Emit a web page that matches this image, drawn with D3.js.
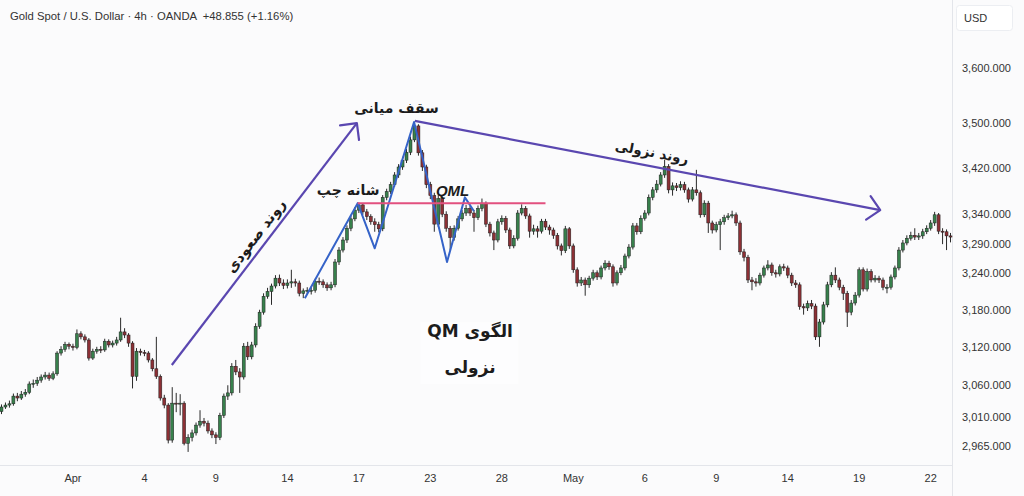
<!DOCTYPE html>
<html>
<head>
<meta charset="utf-8">
<script src="https://cdn.jsdelivr.net/npm/d3@7"></script>
<style>
body { margin: 0; background: #fbfbfc; }
svg { display: block; }
</style>
</head>
<body>
<div id="chart"></div>
<script>
width = 1024
height = 496
plot = ({left: 0, right: 952, top: 0, bottom: 465})

// XAU/USD 4h candles, open of each candle = previous close
firstOpen = 3018
closes = [
  3025, 3028, 3030, 3042, 3039, 3045, 3048, 3061, 3062, 3067, 3072, 3075, 3070, 3077, 3110, 3116, 3124, 3121,
  3119, 3141, 3136, 3131, 3102, 3113, 3116, 3115, 3129, 3123, 3126, 3131, 3144, 3139, 3126, 3073, 3113, 3111,
  3110, 3099, 3085, 3073, 3039, 3028, 2974, 3031, 3030, 3031, 2969, 2978, 2985, 2997, 3003, 3000, 2988, 2982,
  2978, 3012, 3042, 3047, 3089, 3080, 3072, 3121, 3104, 3123, 3153, 3176, 3202, 3210, 3219, 3232, 3224, 3220,
  3224, 3226, 3224, 3207, 3211, 3212, 3212, 3227, 3226, 3221, 3216, 3221, 3259, 3279, 3296, 3316, 3332, 3347,
  3356, 3344, 3336, 3327, 3322, 3315, 3369, 3379, 3391, 3408, 3422, 3434, 3448, 3470, 3495, 3447, 3422, 3391,
  3372, 3323, 3367, 3340, 3316, 3300, 3316, 3332, 3342, 3350, 3342, 3334, 3350, 3359, 3323, 3308, 3296, 3327,
  3333, 3313, 3286, 3299, 3342, 3350, 3337, 3311, 3315, 3311, 3328, 3318, 3313, 3304, 3286, 3278, 3315, 3286,
  3246, 3224, 3229, 3221, 3232, 3241, 3234, 3249, 3257, 3251, 3224, 3241, 3249, 3269, 3284, 3320, 3310, 3333,
  3342, 3369, 3382, 3392, 3408, 3423, 3382, 3389, 3386, 3391, 3382, 3366, 3382, 3377, 3339, 3359, 3325, 3313,
  3322, 3327, 3334, 3337, 3339, 3325, 3276, 3267, 3229, 3226, 3224, 3237, 3249, 3254, 3241, 3239, 3251, 3249,
  3237, 3224, 3221, 3185, 3183, 3190, 3186, 3136, 3160, 3188, 3221, 3237, 3229, 3217, 3207, 3176, 3191, 3204,
  3246, 3214, 3243, 3229, 3232, 3229, 3217, 3217, 3234, 3249, 3279, 3291, 3299, 3304, 3301, 3303, 3310, 3316,
  3325, 3339, 3311, 3310, 3303, 3301
]
highs = [
  3029, 3032, 3035, 3046, 3047, 3050, 3053, 3065, 3068, 3072, 3076, 3080, 3079, 3081, 3113, 3121, 3128, 3127,
  3125, 3148, 3145, 3140, 3134, 3117, 3120, 3121, 3133, 3132, 3130, 3136, 3167, 3150, 3142, 3129, 3118, 3117,
  3115, 3113, 3102, 3136, 3076, 3044, 3031, 3056, 3047, 3045, 3034, 2983, 2990, 3001, 3020, 3008, 3004, 2992,
  2986, 3016, 3046, 3059, 3094, 3099, 3086, 3126, 3128, 3128, 3158, 3180, 3207, 3216, 3223, 3237, 3238, 3230,
  3230, 3246, 3231, 3228, 3215, 3217, 3218, 3231, 3233, 3230, 3225, 3226, 3264, 3284, 3301, 3321, 3337, 3352,
  3360, 3359, 3349, 3340, 3333, 3327, 3373, 3384, 3396, 3413, 3427, 3440, 3454, 3476, 3500, 3498, 3452, 3426,
  3396, 3377, 3373, 3370, 3345, 3320, 3321, 3337, 3347, 3356, 3354, 3347, 3355, 3367, 3362, 3327, 3312, 3332,
  3338, 3337, 3317, 3304, 3347, 3357, 3354, 3341, 3322, 3320, 3332, 3332, 3322, 3317, 3308, 3290, 3320, 3318,
  3290, 3250, 3234, 3233, 3236, 3246, 3245, 3253, 3262, 3261, 3255, 3245, 3254, 3273, 3289, 3325, 3325, 3338,
  3347, 3374, 3387, 3399, 3413, 3435, 3427, 3395, 3394, 3397, 3396, 3386, 3387, 3417, 3381, 3364, 3363, 3329,
  3327, 3332, 3339, 3342, 3346, 3343, 3329, 3281, 3271, 3234, 3232, 3241, 3253, 3262, 3258, 3246, 3255, 3256,
  3253, 3241, 3229, 3225, 3190, 3195, 3196, 3190, 3165, 3193, 3226, 3242, 3250, 3233, 3221, 3211, 3196, 3209,
  3250, 3250, 3248, 3247, 3237, 3236, 3233, 3222, 3238, 3253, 3284, 3296, 3304, 3310, 3316, 3308, 3315, 3321,
  3330, 3344, 3342, 3316, 3314, 3308
]
lows = [
  3014, 3022, 3024, 3027, 3034, 3036, 3041, 3045, 3055, 3058, 3063, 3068, 3066, 3067, 3074, 3106, 3112, 3116,
  3114, 3116, 3132, 3127, 3098, 3099, 3109, 3110, 3112, 3119, 3119, 3122, 3128, 3134, 3120, 3054, 3066, 3106,
  3105, 3095, 3081, 3069, 3035, 3023, 2969, 2970, 3017, 3012, 2966, 2956, 2972, 2981, 2993, 2995, 2984, 2977,
  2968, 2974, 3008, 3036, 3043, 3075, 3047, 3068, 3099, 3100, 3119, 3149, 3172, 3198, 3188, 3215, 3219, 3214,
  3215, 3216, 3218, 3202, 3199, 3206, 3205, 3208, 3221, 3216, 3211, 3212, 3217, 3254, 3275, 3291, 3311, 3328,
  3342, 3339, 3330, 3322, 3310, 3309, 3311, 3364, 3375, 3387, 3403, 3417, 3429, 3443, 3466, 3442, 3415, 3385,
  3366, 3310, 3318, 3335, 3310, 3279, 3295, 3312, 3328, 3337, 3337, 3310, 3330, 3345, 3318, 3302, 3279, 3292,
  3322, 3308, 3281, 3282, 3295, 3338, 3332, 3300, 3305, 3300, 3307, 3313, 3305, 3298, 3280, 3270, 3274, 3281,
  3241, 3218, 3219, 3203, 3216, 3228, 3229, 3230, 3245, 3246, 3218, 3220, 3237, 3245, 3265, 3280, 3305, 3306,
  3329, 3338, 3364, 3377, 3388, 3403, 3376, 3372, 3380, 3381, 3377, 3360, 3362, 3372, 3334, 3335, 3308, 3307,
  3309, 3279, 3322, 3330, 3333, 3320, 3271, 3260, 3224, 3212, 3218, 3220, 3233, 3245, 3236, 3233, 3235, 3244,
  3232, 3219, 3216, 3180, 3172, 3178, 3181, 3131, 3120, 3156, 3184, 3217, 3224, 3212, 3196, 3152, 3171, 3187,
  3200, 3210, 3210, 3225, 3225, 3224, 3212, 3207, 3213, 3230, 3245, 3275, 3287, 3295, 3296, 3296, 3298, 3306,
  3312, 3320, 3306, 3289, 3279, 3292
]

tickIndex = [18, 36, 54, 72, 90, 108, 126, 144, 162, 180, 198, 216, 234]
tickLabels = ["Apr", "4", "9", "14", "17", "23", "28", "May", "6", "9", "14", "19", "22"]
priceTicks = [3600, 3500, 3420, 3340, 3290, 3240, 3180, 3120, 3060, 3010, 2965]

// annotations, in [candle index, price]
upTrend = [[42.9, 3091], [89.5, 3500]]
downTrend = [[104.1, 3504], [221.3, 3347]]
zigzag = [[76.4, 3199], [89.7, 3359], [94, 3282], [103.9, 3502], [112.2, 3259], [116.7, 3369], [119, 3345]]
qmlLevel = 3359
qmlSpan = [89.7, 137]

candles = closes.map((c, i) => ({i: i, o: i ? closes[i - 1] : firstOpen, h: highs[i], l: lows[i], c: c}))
N = candles.length

x = d3.scaleBand()
  .domain(d3.range(N))
  .range([plot.left, plot.right])
  .paddingInner(0.25)
xi = d3.scaleLinear()
  .domain([0, N - 1])
  .range([x(0) + x.bandwidth() / 2, x(N - 1) + x.bandwidth() / 2])
y = d3.scaleLog()
  .domain([2965, 3600])
  .range([446, 68.3])

const svg = d3.select("#chart").append("svg")
  .attr("width", width)
  .attr("height", height)
  .attr("viewBox", [0, 0, width, height])

svg.append("rect").attr("width", width).attr("height", height).attr("fill", "#fbfbfc")

// frame lines
svg.append("line")
  .attr("x1", plot.right + 0.5).attr("x2", plot.right + 0.5)
  .attr("y1", 0).attr("y2", height)
  .attr("stroke", "#e3e5ea")
svg.append("line")
  .attr("x1", 0).attr("x2", plot.right)
  .attr("y1", plot.bottom + 0.5).attr("y2", plot.bottom + 0.5)
  .attr("stroke", "#e3e5ea")

// candles
const up = "#37804c", down = "#8c3035"
const cg = svg.append("g")
cg.selectAll("line")
  .data(candles)
  .enter().append("line")
  .attr("x1", d => xi(d.i)).attr("x2", d => xi(d.i))
  .attr("y1", d => y(d.h)).attr("y2", d => y(d.l))
  .attr("stroke", "#2a2a2a")
  .attr("stroke-width", 1)
cg.selectAll("rect")
  .data(candles)
  .enter().append("rect")
  .attr("x", d => x(d.i))
  .attr("width", x.bandwidth())
  .attr("y", d => y(Math.max(d.o, d.c)))
  .attr("height", d => Math.max(1, Math.abs(y(d.o) - y(d.c))))
  .attr("fill", d => d.c >= d.o ? up : down)
  .attr("stroke", "#1f1f1f")
  .attr("stroke-width", 0.5)

// axes
xAxis = d3.axisBottom(x)
  .tickValues(tickIndex)
  .tickSize(0)
  .tickPadding(9)
  .tickFormat((d, i) => tickLabels[i])
svg.append("g")
  .attr("transform", `translate(0,${plot.bottom})`)
  .call(xAxis)
  .call(g => g.select(".domain").remove())
  .selectAll("text")
  .style("font", "11px 'Liberation Sans', sans-serif")
  .attr("fill", "#333")

yAxis = d3.axisRight(y)
  .tickValues(priceTicks)
  .tickSize(0)
  .tickPadding(10)
  .tickFormat(d3.format(",.3f"))
svg.append("g")
  .attr("transform", `translate(${plot.right},0)`)
  .call(yAxis)
  .call(g => g.select(".domain").remove())
  .selectAll("text")
  .style("font", "11px 'Liberation Sans', sans-serif")
  .attr("fill", "#333")

svg.append("rect")
  .attr("x", 956.5).attr("y", 5.5).attr("width", 56).attr("height", 25).attr("rx", 3)
  .attr("fill", "#fff").attr("stroke", "#eceef2")
svg.append("text")
  .attr("x", 964).attr("y", 22)
  .style("font", "11px 'Liberation Sans', sans-serif")
  .attr("fill", "#333")
  .text("USD")

svg.append("text")
  .attr("x", 10).attr("y", 20)
  .style("font", "11.3px 'Liberation Sans', sans-serif")
  .attr("fill", "#333")
  .attr("xml:space", "preserve")
  .text("Gold Spot / U.S. Dollar · 4h · OANDA  +48.855 (+1.16%)")

// annotations
const pt = d => [xi(d[0]), y(d[1])]
const line = d3.line()

function arrow(pts, color) {
  const a = pt(pts[0]), b = pt(pts[1])
  const ang = Math.atan2(b[1] - a[1], b[0] - a[0]) + Math.PI
  const L = 17, spread = 0.78
  const h1 = [b[0] + L * Math.cos(ang + spread), b[1] + L * Math.sin(ang + spread)]
  const h2 = [b[0] + L * Math.cos(ang - spread), b[1] + L * Math.sin(ang - spread)]
  svg.append("path").attr("d", line([a, b])).attr("stroke", color).attr("stroke-width", 2.2).attr("fill", "none")
  svg.append("path").attr("d", line([h1, b, h2])).attr("stroke", color).attr("stroke-width", 2.2)
    .attr("fill", "none").attr("stroke-linecap", "round").attr("stroke-linejoin", "round")
}
arrow(upTrend, "#5a47b0")
arrow(downTrend, "#5a47b0")

svg.append("path")
  .attr("d", line(zigzag.map(pt)))
  .attr("fill", "none")
  .attr("stroke", "#3563c8")
  .attr("stroke-width", 2)
  .attr("stroke-linejoin", "round")

svg.append("line")
  .attr("x1", xi(qmlSpan[0])).attr("x2", xi(qmlSpan[1]))
  .attr("y1", y(qmlLevel)).attr("y2", y(qmlLevel))
  .attr("stroke", "#e2507f")
  .attr("stroke-width", 2)

labels = [
  {t: "سقف میانی", i: 99.5, p: 3527, r: 0, s: 14},
  {t: "شانه چپ", i: 87.3, p: 3382, r: 0, s: 14},
  {t: "روند صعودی", i: 64, p: 3303, r: -52.7, s: 14.5},
  {t: "روند نزولی", i: 163.8, p: 3448, r: 10.8, s: 13.5},
  {t: "الگوی QM", i: 118, p: 3145, r: 0, s: 17},
  {t: "نزولی", i: 118, p: 3088, r: 0, s: 17}
]
svg.append("rect")
  .attr("x", xi(105.5)).attr("y", y(3160)).attr("width", 98).attr("height", 62)
  .attr("fill", "#ffffff").attr("opacity", 0.5)

svg.selectAll(".lbl")
  .data(labels)
  .enter().append("text")
  .attr("class", "lbl")
  .attr("transform", d => `translate(${xi(d.i)},${y(d.p)}) rotate(${d.r})`)
  .attr("text-anchor", "middle")
  .attr("dy", "0.35em")
  .attr("direction", "rtl")
  .style("font", d => `bold ${d.s}px 'DejaVu Sans', sans-serif`)
  .attr("fill", "#1c1c1c")
  .text(d => d.t)

svg.append("text")
  .attr("x", xi(113.6)).attr("y", y(3380))
  .attr("text-anchor", "middle")
  .attr("dy", "0.35em")
  .style("font", "italic bold 15px 'Liberation Sans', sans-serif")
  .attr("fill", "#1c1c1c")
  .text("QML")
</script>
</body>
</html>
